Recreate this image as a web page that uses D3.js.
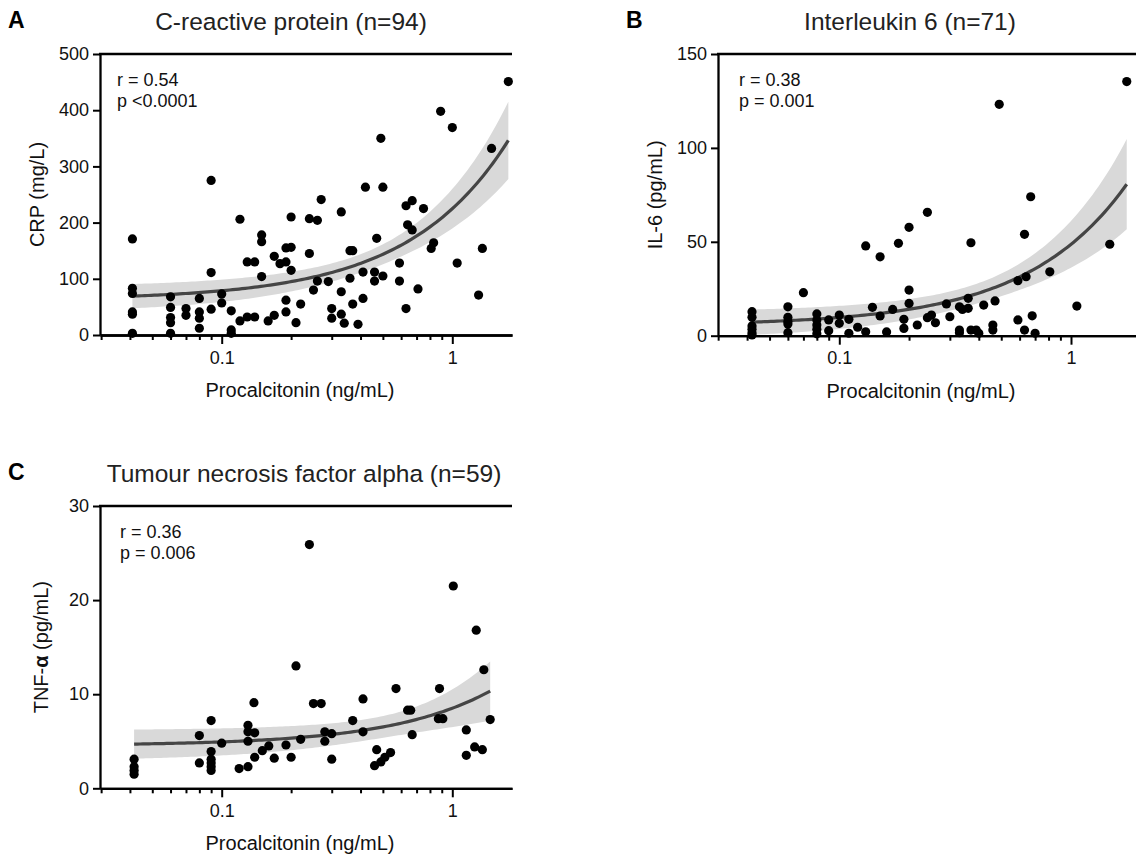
<!DOCTYPE html>
<html>
<head>
<meta charset="utf-8">
<script src="https://cdn.jsdelivr.net/npm/d3@7"></script>
<style>
  body { margin: 0; background: #fff; }
  svg { font-family: Arial, "Liberation Sans", Helvetica, sans-serif; }
</style>
</head>
<body>
<svg id="chart" width="1136" height="857"></svg>
<script>
// [procalcitonin ng/mL, marker value]
const crpPoints = [
  [0.041, 171], [0.041, 83], [0.041, 74], [0.041, 41], [0.041, 37], [0.041, 3],
  [0.06, 68], [0.06, 49], [0.06, 31], [0.06, 22], [0.06, 3],
  [0.07, 47], [0.07, 35],
  [0.08, 65], [0.08, 41], [0.08, 30], [0.08, 12],
  [0.09, 275], [0.09, 111], [0.09, 46],
  [0.1, 73], [0.1, 57],
  [0.11, 43], [0.11, 9], [0.11, 3],
  [0.12, 206], [0.12, 25],
  [0.129, 130], [0.129, 32], [0.139, 130], [0.139, 32],
  [0.149, 178], [0.149, 166], [0.149, 104],
  [0.159, 25], [0.169, 35], [0.169, 140], [0.179, 127],
  [0.19, 130], [0.19, 155], [0.19, 62], [0.19, 41],
  [0.2, 210], [0.2, 156], [0.2, 115],
  [0.21, 22], [0.22, 55], [0.24, 207], [0.24, 145], [0.25, 80],
  [0.26, 204], [0.26, 96], [0.27, 241], [0.29, 95],
  [0.3, 47], [0.3, 30],
  [0.33, 219], [0.33, 77], [0.33, 37], [0.34, 21],
  [0.36, 150], [0.36, 101], [0.37, 150], [0.37, 55], [0.39, 19],
  [0.41, 112], [0.41, 65], [0.42, 263],
  [0.46, 112], [0.46, 96], [0.47, 172], [0.49, 350], [0.5, 263], [0.5, 105],
  [0.59, 128], [0.59, 96], [0.63, 47], [0.63, 230], [0.64, 196],
  [0.67, 239], [0.67, 187], [0.71, 82], [0.75, 225], [0.81, 154], [0.83, 164],
  [0.89, 398], [1.0, 369], [1.05, 128], [1.3, 71], [1.35, 154], [1.48, 332], [1.75, 451]
];

const il6Points = [
  [0.042, 12.8], [0.042, 9.8], [0.042, 5.2], [0.042, 3.4], [0.042, 1.6], [0.042, 0.4],
  [0.06, 15.4], [0.06, 9.8], [0.06, 7.5], [0.06, 6.2], [0.06, 1.6],
  [0.07, 22.9],
  [0.08, 11.6], [0.08, 8.4], [0.08, 5.7], [0.08, 3.4], [0.08, 1],
  [0.09, 8.4], [0.09, 2.7], [0.1, 11], [0.1, 6.6], [0.11, 8.7], [0.11, 1.3],
  [0.12, 4.5], [0.13, 47.8], [0.13, 2.1], [0.139, 15.1], [0.15, 42], [0.15, 10.5],
  [0.16, 2], [0.17, 14], [0.18, 49.2], [0.19, 8.7], [0.19, 3.9],
  [0.2, 57.7], [0.2, 24.3], [0.2, 17.2], [0.217, 5.7], [0.24, 65.7], [0.24, 9.6],
  [0.25, 11], [0.26, 6.9], [0.29, 16.9], [0.3, 10.1],
  [0.33, 15.4], [0.33, 3], [0.33, 1.6], [0.34, 14], [0.36, 19.9], [0.36, 14.6],
  [0.37, 49.5], [0.37, 3], [0.39, 3], [0.4, 1.3], [0.42, 16.3],
  [0.46, 5.7], [0.46, 3], [0.47, 18.5], [0.49, 123.2],
  [0.59, 29.3], [0.59, 8.4], [0.63, 54], [0.63, 3], [0.64, 31.4], [0.67, 74],
  [0.68, 10.6], [0.7, 1.3], [0.81, 34], [1.06, 15.8], [1.47, 48.7], [1.74, 135.3]
];

const tnfPoints = [
  [0.0417, 3.1], [0.0417, 2.3], [0.0417, 1.9], [0.0417, 1.5],
  [0.08, 5.6], [0.08, 2.7],
  [0.09, 7.2], [0.09, 3.9], [0.09, 3.1], [0.09, 2.7], [0.09, 2.3], [0.09, 1.9],
  [0.1, 4.8], [0.119, 2.1],
  [0.13, 2.3], [0.13, 6.7], [0.13, 6.0], [0.13, 5.0],
  [0.138, 9.1], [0.139, 5.9], [0.139, 3.3],
  [0.15, 4.0], [0.16, 4.5], [0.169, 3.2], [0.19, 4.6], [0.2, 3.3],
  [0.21, 13.0], [0.22, 5.2], [0.24, 25.9], [0.25, 9.0], [0.27, 9.0],
  [0.28, 6.0], [0.28, 5.0], [0.3, 5.8], [0.3, 3.1], [0.37, 7.2],
  [0.41, 9.5], [0.41, 6.0], [0.46, 2.4], [0.47, 4.1],
  [0.49, 2.8], [0.51, 3.3], [0.54, 3.8], [0.57, 10.6],
  [0.64, 8.3], [0.66, 8.3], [0.67, 5.7],
  [0.88, 10.6], [0.87, 7.4], [0.91, 7.4], [1.01, 21.5],
  [1.15, 6.2], [1.15, 3.5], [1.27, 16.8], [1.25, 4.4], [1.35, 4.1], [1.37, 12.6], [1.46, 7.3]
];

const majorTicks = [0.1, 1];
const minorTicks = [0.03, 0.04, 0.05, 0.06, 0.07, 0.08, 0.09, 0.2, 0.3, 0.4, 0.5, 0.6, 0.7, 0.8, 0.9, 2];
const crpTicks = [0, 100, 200, 300, 400, 500];
const il6Ticks = [0, 50, 100, 150];
const tnfTicks = [0, 10, 20, 30];
const crpStats = ["r = 0.54", "p <0.0001"];
const il6Stats = ["r = 0.38", "p = 0.001"];
const tnfStats = ["r = 0.36", "p = 0.006"];

const svg = d3.select("#chart");

const panels = [
  { letter: "A", title: "C-reactive protein (n=94)", yLabel: ["CRP (mg/L)"], points: crpPoints, yTicks: crpTicks, stats: crpStats,
    left: 100, right: 512, top: 54, bottom: 335, x01: 221.7, x1: 452.3, letterX: 8, titleX: 291, yLabelX: 44, statX: 117 },
  { letter: "B", title: "Interleukin 6 (n=71)", yLabel: ["IL-6 (pg/mL)"], points: il6Points, yTicks: il6Ticks, stats: il6Stats,
    left: 718, right: 1136, top: 54, bottom: 335.7, x01: 839.3, x1: 1071, letterX: 626, titleX: 910, yLabelX: 662, statX: 739 },
  { letter: "C", title: "Tumour necrosis factor alpha (n=59)", yLabel: ["TNF-", "α", " (pg/mL)"], points: tnfPoints, yTicks: tnfTicks, stats: tnfStats,
    left: 100, right: 512, top: 506, bottom: 788.3, x01: 221.7, x1: 452.3, letterX: 8, titleX: 304, yLabelX: 48, statX: 120 }
];

function linearFit(points) {
  const n = points.length;
  const mx = d3.mean(points, d => d[0]);
  const my = d3.mean(points, d => d[1]);
  const sxx = d3.sum(points, d => (d[0] - mx) ** 2);
  const sxy = d3.sum(points, d => (d[0] - mx) * (d[1] - my));
  const b = sxy / sxx;
  const a = my - b * mx;
  const s = Math.sqrt(d3.sum(points, d => (d[1] - a - b * d[0]) ** 2) / (n - 2));
  return {
    y: (x) => a + b * x,
    ci: (x) => 1.99 * s * Math.sqrt(1 / n + (x - mx) ** 2 / sxx),
  };
}

function drawPanel(p) {
  const g = svg.append("g");

  const x = d3.scaleLog().domain([0.1, 1]).range([p.x01, p.x1]);
  x.domain([x.invert(p.left), x.invert(p.right)]).range([p.left, p.right]);
  const y = d3.scaleLinear().domain([0, d3.max(p.yTicks)]).range([p.bottom, p.top]);

  // fitted line + 95% band
  const fit = linearFit(p.points);
  const [xmin, xmax] = d3.extent(p.points, d => d[0]);
  const xs = d3.range(121).map(i => Math.exp(Math.log(xmin) + (Math.log(xmax) - Math.log(xmin)) * i / 120));

  g.append("path")
    .datum(xs)
    .attr("fill", "#d9d9d9")
    .attr("d", d3.area().x(d => x(d)).y0(d => y(fit.y(d) - fit.ci(d))).y1(d => y(fit.y(d) + fit.ci(d))));

  g.append("path")
    .datum(xs)
    .attr("fill", "none")
    .attr("stroke", "#454545")
    .attr("stroke-width", 3.2)
    .attr("d", d3.line().x(d => x(d)).y(d => y(fit.y(d))));

  g.selectAll("circle.pt")
    .data(p.points)
    .enter()
    .append("circle")
    .attr("class", "pt")
    .attr("cx", d => x(d[0]))
    .attr("cy", d => y(d[1]))
    .attr("r", 4.6)
    .attr("fill", "#000");

  // axes
  const yAxis = g.append("g")
    .attr("transform", `translate(${p.left},0)`)
    .call(d3.axisLeft(y).tickValues(p.yTicks).tickSize(7).tickSizeOuter(0).tickPadding(4));

  const xMinor = g.append("g")
    .attr("transform", `translate(0,${p.bottom})`)
    .call(d3.axisBottom(x).tickValues(minorTicks.filter(t => x(t) <= p.right)).tickSize(5).tickSizeOuter(0).tickFormat(""));

  const xMajor = g.append("g")
    .attr("transform", `translate(0,${p.bottom})`)
    .call(d3.axisBottom(x).tickValues(majorTicks).tickSize(9).tickSizeOuter(0).tickPadding(7).tickFormat(d => (d === 1 ? "1" : "0.1")));

  [yAxis, xMinor, xMajor].forEach((ax) => {
    ax.selectAll("path.domain").attr("stroke", "#000").attr("stroke-width", 2.3);
    ax.selectAll(".tick line").attr("stroke", "#000").attr("stroke-width", 2);
    ax.selectAll(".tick text").attr("font-size", 18).attr("font-family", "Arial, 'Liberation Sans', sans-serif").attr("fill", "#111");
  });

  g.append("line")
    .attr("x1", p.left - 1)
    .attr("x2", p.right)
    .attr("y1", p.top)
    .attr("y2", p.top)
    .attr("stroke", "#000")
    .attr("stroke-width", 2.3);

  // labels
  g.append("text")
    .attr("x", p.letterX)
    .attr("y", p.top - 26)
    .attr("font-size", 23)
    .attr("font-weight", "bold")
    .text(p.letter);

  g.append("text")
    .attr("x", p.titleX)
    .attr("y", p.top - 24)
    .attr("text-anchor", "middle")
    .attr("font-size", 24.5)
    .attr("fill", "#222")
    .text(p.title);

  g.append("text")
    .attr("x", (p.left + p.right) / 2 - 6)
    .attr("y", p.bottom + 62)
    .attr("text-anchor", "middle")
    .attr("font-size", 20)
    .attr("fill", "#111")
    .text("Procalcitonin (ng/mL)");

  const yl = g.append("text")
    .attr("transform", `translate(${p.yLabelX},${(p.top + p.bottom) / 2}) rotate(-90)`)
    .attr("text-anchor", "middle")
    .attr("font-size", 20)
    .attr("fill", "#111");
  p.yLabel.forEach((s) => {
    yl.append("tspan").attr("font-weight", s === "α" ? "bold" : null).text(s);
  });

  p.stats.forEach((s, i) => {
    g.append("text")
      .attr("x", p.statX)
      .attr("y", p.top + 32 + i * 20.5)
      .attr("font-size", 18)
      .attr("fill", "#111")
      .text(s);
  });
}

panels.forEach(drawPanel);
</script>
</body>
</html>
